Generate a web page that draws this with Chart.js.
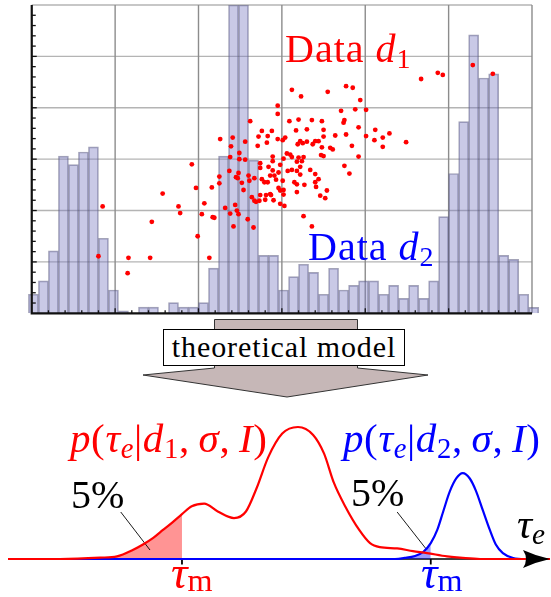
<!DOCTYPE html>
<html><head><meta charset="utf-8">
<script src="https://cdn.jsdelivr.net/npm/chart.js@4.4.1/dist/chart.umd.min.js"></script>
<style>
html,body{margin:0;padding:0;background:#fff;}
body{width:551px;height:597px;position:relative;overflow:hidden;font-family:"Liberation Serif","DejaVu Serif",serif;}
canvas{position:absolute;left:0;}
#top{top:0;}
#bottom{top:380px;}
svg{position:absolute;left:0;top:0;}
.lbl{position:absolute;line-height:1;white-space:nowrap;font-family:"Liberation Serif","DejaVu Serif",serif;}
.lbl i{font-style:italic;}
.sub{font-size:0.7em;position:relative;top:0.22em;}
.subm{font-size:0.7em;position:relative;top:0.12em;}
.red{color:#ff0000;} .blue{color:#0000ff;} .blk{color:#000;}
#box{position:absolute;left:163px;top:329px;width:242px;height:37px;border:1.3px solid #000;background:#fff;box-sizing:border-box;display:flex;align-items:center;justify-content:center;font-family:"Liberation Serif","DejaVu Serif",serif;font-size:30px;letter-spacing:0.9px;line-height:1;padding-bottom:2px;}
</style></head>
<body>
<canvas id="top" width="551" height="330"></canvas>
<svg width="551" height="597"><polygon points="214.5,319.5 357.5,319.5 357.5,368 428,375 287,397 143,375 214.5,368" fill="#c6b7b7" stroke="#333" stroke-width="1"/></svg>
<div id="box">theoretical model</div>
<canvas id="bottom" width="551" height="217"></canvas>

<div class="lbl red" style="left:285px;top:29px;font-size:40px;letter-spacing:1px;">Data <i>d</i><span class="sub">1</span></div>
<div class="lbl blue" style="left:308px;top:226.5px;font-size:40px;letter-spacing:1px;">Data <i>d</i><span class="sub">2</span></div>
<div class="lbl red" style="left:70px;top:417.7px;font-size:41px;letter-spacing:0.6px;"><i>p</i>(<i>τ</i><span class="sub"><i>e</i></span>|<i>d</i><span class="sub">1</span>,&thinsp;<i>σ</i>,&thinsp;<i>I</i>)</div>
<div class="lbl blue" style="left:343px;top:417.7px;font-size:41px;letter-spacing:0.6px;"><i>p</i>(<i>τ</i><span class="sub"><i>e</i></span>|<i>d</i><span class="sub">2</span>,&thinsp;<i>σ</i>,&thinsp;<i>I</i>)</div>
<div class="lbl blk" style="left:71px;top:474.5px;font-size:40px;">5%</div>
<div class="lbl blk" style="left:351px;top:472.5px;font-size:40px;">5%</div>
<div class="lbl red" style="left:171px;top:549.5px;font-size:46px;"><i>τ</i><span class="subm">m</span></div>
<div class="lbl blue" style="left:421px;top:549.5px;font-size:46px;"><i>τ</i><span class="subm">m</span></div>
<div class="lbl blk" style="left:517px;top:503px;font-size:42px;"><i>τ</i><span class="sub"><i>e</i></span></div>

<script>
// ---------- top panel: histogram of d2 and scatter of d1 ----------
const binCenters = [0.02,0.14,0.26,0.38,0.50,0.62,0.74,0.86,0.98,1.10,1.22,1.34,1.46,1.58,1.70,1.82,1.94,2.06,2.18,2.30,2.42,2.54,2.66,2.78,2.90,3.02,3.14,3.26,3.38,3.50,3.62,3.74,3.86,3.98,4.10,4.22,4.34,4.46,4.58,4.70,4.82,4.94,5.06,5.18,5.30,5.42,5.54,5.66,5.78,5.90,6.02];
const histCounts = [1.85,3.15,6.07,15.3,14.47,15.7,16.2,7.3,2.27,0.23,0,0.6,0.6,0,1.04,0.6,0.6,1.04,4.4,15.3,30,30,14.9,5.64,5.64,2.27,3.57,4.77,3.99,1.85,4.38,2.27,2.72,3.15,3.15,1.85,2.72,1.46,2.72,1.46,3.15,9.4,13.6,18.65,27.1,22.9,23.3,5.64,5.25,1.85,0.58];
const scatterX = [3.12,3.23,3.55,2.95,2.95,3.71,2.62,3.09,3.20,3.36,3.48,3.74,2.76,2.88,3.17,3.30,3.50,2.72,2.83,2.26,2.41,2.95,3.01,3.04,2.56,2.71,2.82,3.19,3.22,3.25,3.30,3.40,3.44,3.50,3.37,3.48,3.58,3.61,3.64,2.39,2.49,3.06,3.10,3.12,3.20,3.26,3.47,3.50,2.38,2.49,2.56,2.89,2.89,3.02,2.74,2.98,3.18,3.24,3.75,2.74,2.84,2.89,3.07,3.12,3.18,3.22,3.34,2.37,2.48,2.96,2.91,2.86,2.25,2.45,2.60,2.67,2.76,3.22,3.40,2.61,2.47,2.79,2.83,2.93,3.01,3.15,3.18,3.27,3.44,3.40,3.41,2.25,2.52,1.97,2.16,2.54,2.96,3.02,2.98,3.18,3.54,3.46,3.52,2.74,2.81,2.86,2.87,3.02,2.64,2.67,2.69,2.73,2.80,2.90,2.07,2.98,3.03,2.44,2.32,2.46,2.48,2.38,2.04,2.17,2.19,2.59,3.26,2.42,2.66,3.36,1.99,0.85,0.80,1.16,1.15,1.44,1.42,1.57,1.76,1.78,1.92,2.13,4.67,4.87,4.93,5.29,5.53,3.77,3.85,3.94,3.88,4.01,3.75,3.92,3.77,4.01,4.12,4.11,4.21,4.29,4.21,4.49,3.84,3.92,3.81];
const scatterY = [4.35,4.22,4.31,4.04,3.88,3.94,3.74,3.74,3.77,3.76,3.74,3.71,3.55,3.55,3.56,3.58,3.57,3.44,3.45,3.39,3.42,3.39,3.37,3.42,3.34,3.26,3.32,3.29,3.35,3.31,3.34,3.35,3.35,3.44,3.29,3.23,3.22,3.19,3.46,3.25,3.12,3.11,3.09,3.04,3.03,3.04,3.08,3.06,3.04,3.00,2.99,3.05,2.96,3.01,2.92,2.89,2.95,2.96,2.87,2.83,2.85,2.78,2.77,2.79,2.77,2.85,2.79,2.77,2.73,2.74,2.68,2.68,2.66,2.65,2.68,2.63,2.61,2.70,2.71,2.58,2.63,2.55,2.55,2.60,2.58,2.55,2.51,2.50,2.61,2.55,2.46,2.53,2.54,2.44,2.45,2.40,2.44,2.40,2.39,2.36,2.39,2.29,2.24,2.30,2.30,2.32,2.30,2.31,2.26,2.19,2.17,2.19,2.21,2.20,2.14,2.13,2.09,2.11,2.05,2.00,1.93,1.94,1.93,1.87,1.86,1.83,1.89,1.69,1.67,1.69,1.50,2.08,1.11,1.08,0.78,1.78,1.08,2.33,2.08,1.95,2.90,1.08,4.56,4.68,4.64,4.83,4.66,4.42,4.39,4.15,3.97,3.96,3.76,3.62,3.48,3.45,3.57,3.37,3.42,3.50,3.24,3.33,3.26,3.05,2.72];
const gridX = [0,1,2,3,4,5,6];
const gridCounts = [0,5,10,15,20,25,30];

// ---------- bottom panel: posterior curves ----------
const redX = [0,0.96,1.70,2.01,2.31,2.49,2.68,2.86,3.04,3.21,3.39,3.62,3.87,4.17,4.39,4.59,4.80,5.06,5.35,5.63,5.83,6.01,6.22,6.48,6.68,6.86,7.18,7.47,7.73,8.10,8.39,8.71,10];
const redY = [0,0,0.01,0.02,0.07,0.11,0.16,0.22,0.28,0.34,0.40,0.42,0.36,0.31,0.36,0.54,0.77,0.95,1.00,0.94,0.80,0.58,0.40,0.22,0.12,0.09,0.08,0.06,0.045,0.02,0.008,0,0];
const blueX = [0,7.14,7.32,7.51,7.66,7.80,7.92,8.03,8.15,8.27,8.39,8.52,8.63,8.76,8.89,9.00,9.13,9.32,9.54,10];
const blueY = [0,0,0.008,0.023,0.053,0.12,0.22,0.36,0.51,0.61,0.65,0.61,0.52,0.37,0.22,0.11,0.045,0.008,0,0];
const tauM = [3.21, 7.80];
const leader1X = [2.08, 2.62], leader1Y = [0.356, 0.068];
const leader2X = [7.18, 7.73], leader2Y = [0.356, 0.068];

const pts = (xs, ys) => xs.map((x, i) => ({x, y: ys[i]}));

const topDecor = {
  id: 'topDecor',
  beforeDatasetsDraw(chart) {
    const {ctx, scales: {x, y}} = chart;
    const x0 = x.getPixelForValue(0), x6 = x.getPixelForValue(6);
    const y0 = y.getPixelForValue(0), yT = y.getPixelForValue(30);
    ctx.save();
    ctx.lineWidth = 1.4;
    ctx.strokeStyle = '#b4b4b4';
    gridCounts.forEach(v => { if (!v) return; const p = y.getPixelForValue(v);
      ctx.beginPath(); ctx.moveTo(x0, p); ctx.lineTo(x6, p); ctx.stroke(); });
    ctx.strokeStyle = '#8c8c8c';
    gridX.forEach(v => { if (!v) return; const p = x.getPixelForValue(v);
      ctx.beginPath(); ctx.moveTo(p, yT); ctx.lineTo(p, y0); ctx.stroke(); });
    ctx.restore();
  },
  afterDatasetsDraw(chart) {
    const {ctx, scales: {x, y}} = chart;
    const x0 = x.getPixelForValue(0), x6 = x.getPixelForValue(6);
    const y0 = y.getPixelForValue(0), yT = y.getPixelForValue(30);
    ctx.save();
    ctx.strokeStyle = '#111';
    ctx.lineWidth = 1.3;
    for (let k = 1; k < 30; k++) {
      const px = x.getPixelForValue(k * 0.2), len = k % 5 ? 3 : 5;
      ctx.beginPath(); ctx.moveTo(px, y0); ctx.lineTo(px, y0 - len); ctx.stroke();
      const py = y.getPixelForValue(k), l2 = k % 5 ? 4 : 5;
      ctx.beginPath(); ctx.moveTo(x0, py); ctx.lineTo(x0 + l2, py); ctx.stroke();
    }
    ctx.lineWidth = 2.2;
    ctx.beginPath(); ctx.moveTo(x0, yT); ctx.lineTo(x0, y0); ctx.lineTo(x6, y0); ctx.stroke();
    ctx.restore();
  }
};

new Chart(document.getElementById('top'), {
  type: 'bar',
  data: {
    datasets: [
      { type: 'scatter', data: pts(scatterX, scatterY), xAxisID: 'x', yAxisID: 'y2',
        backgroundColor: '#ff0000', borderWidth: 0, pointRadius: 2.4, order: 0 },
      { type: 'bar', data: pts(binCenters, histCounts), xAxisID: 'x', yAxisID: 'y',
        backgroundColor: 'rgba(120,120,192,0.40)', borderColor: 'rgba(90,90,125,0.55)',
        borderWidth: 1, barPercentage: 1, categoryPercentage: 1, order: 1 }
    ]
  },
  options: {
    responsive: false, animation: false, devicePixelRatio: 1,
    layout: { padding: { left: 28, right: 11.5, top: 5, bottom: 16.7 } },
    plugins: { legend: { display: false }, tooltip: { enabled: false } },
    scales: {
      x: { type: 'linear', min: -0.045, max: 6.09, offset: false, display: false },
      y: { type: 'linear', min: 0, max: 30, display: false },
      y2: { type: 'linear', min: 0, max: 6, display: false }
    }
  },
  plugins: [topDecor]
});

const bottomDecor = {
  id: 'bottomDecor',
  beforeDatasetsDraw(chart) {
    const {ctx, scales: {x, y}} = chart;
    const py = y.getPixelForValue(0);
    ctx.save();
    ctx.strokeStyle = '#000';
    ctx.lineWidth = 1.6;
    ctx.beginPath(); ctx.moveTo(x.getPixelForValue(0), py); ctx.lineTo(x.getPixelForValue(10) - 10, py); ctx.stroke();
    ctx.lineWidth = 1.8;
    tauM.forEach(t => { const px = x.getPixelForValue(t);
      ctx.beginPath(); ctx.moveTo(px, py); ctx.lineTo(px, py + 5.5); ctx.stroke(); });
    ctx.restore();
  },
  afterDatasetsDraw(chart) {
    const {ctx, scales: {x, y}} = chart;
    const py = y.getPixelForValue(0), tip = x.getPixelForValue(10);
    ctx.save();
    ctx.fillStyle = '#000';
    ctx.beginPath();
    ctx.moveTo(tip, py);
    ctx.quadraticCurveTo(tip - 14, py - 3, tip - 27, py - 9);
    ctx.quadraticCurveTo(tip - 21, py, tip - 27, py + 9);
    ctx.quadraticCurveTo(tip - 14, py + 3, tip, py);
    ctx.fill();
    ctx.restore();
  }
};

const iR = redX.indexOf(tauM[0]);
const iB = blueX.indexOf(tauM[1]);

new Chart(document.getElementById('bottom'), {
  type: 'line',
  data: {
    datasets: [
      { data: pts(redX, redY), borderColor: '#ff0000', borderWidth: 2.2, pointRadius: 0,
        cubicInterpolationMode: 'monotone', fill: false, order: 0 },
      { data: pts(blueX, blueY), borderColor: '#0000ff', borderWidth: 2.2, pointRadius: 0,
        cubicInterpolationMode: 'monotone', fill: false, order: 1 },
      { data: pts(leader1X, leader1Y), borderColor: '#000', borderWidth: 0.9, pointRadius: 0, fill: false, order: 2 },
      { data: pts(leader2X, leader2Y), borderColor: '#000', borderWidth: 0.9, pointRadius: 0, fill: false, order: 2 },
      { data: pts(redX.slice(0, iR + 1), redY.slice(0, iR + 1)), borderWidth: 0, borderColor: 'rgba(0,0,0,0)',
        backgroundColor: 'rgba(255,0,0,0.42)', pointRadius: 0, cubicInterpolationMode: 'monotone', fill: 'origin', order: 3 },
      { data: pts(blueX.slice(0, iB + 1), blueY.slice(0, iB + 1)), borderWidth: 0, borderColor: 'rgba(0,0,0,0)',
        backgroundColor: 'rgba(0,0,255,0.4)', pointRadius: 0, cubicInterpolationMode: 'monotone', fill: 'origin', order: 3 }
    ]
  },
  options: {
    responsive: false, animation: false, devicePixelRatio: 1,
    layout: { padding: { left: 8, right: 1, top: 20.6, bottom: 24.8 } },
    plugins: { legend: { display: false }, tooltip: { enabled: false } },
    scales: {
      x: { type: 'linear', min: 0, max: 10, display: false },
      y: { type: 'linear', min: -0.1, max: 1.2, display: false }
    }
  },
  plugins: [bottomDecor]
});
</script>
</body></html>
